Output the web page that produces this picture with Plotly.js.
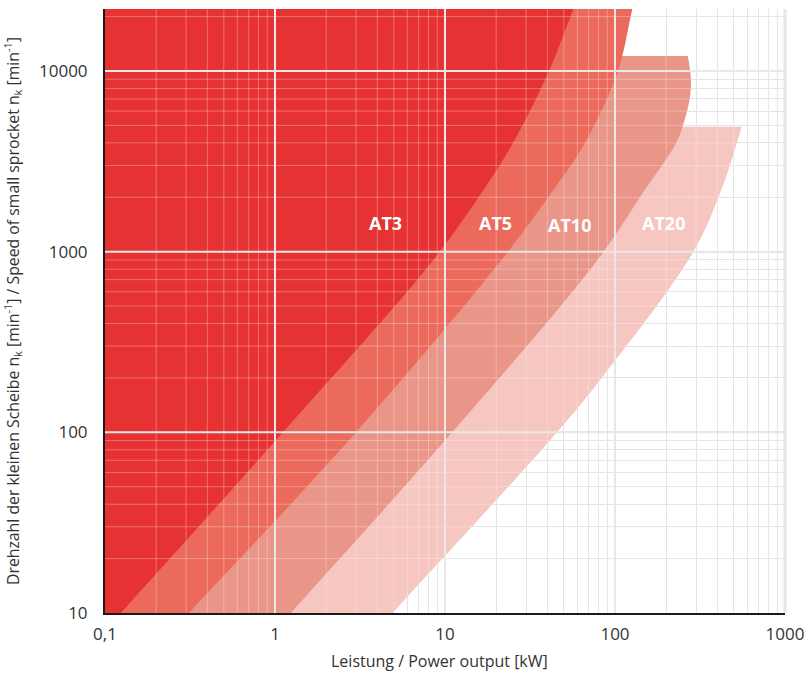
<!DOCTYPE html>
<html>
<head>
<meta charset="utf-8">
<script src="https://cdn.plot.ly/plotly-3.0.1.min.js"></script>
<style>html,body{margin:0;padding:0;background:#fff;}</style>
</head>
<body>
<div id="chart" style="width:804px;height:673px;"></div>
<script>
// Power output [kW] and speed [min^-1] along the right boundary of each belt's range
const at3Power = [0.124, 1.07, 8.47, 16.7, 25.5, 40.9, 56.6];
const at3Speed = [10, 96, 891, 2170, 4100, 10000, 21700];

const at5Power = [0.312, 2.88, 21.3, 43.0, 67.5, 104, 126];
const at5Speed = [10, 96, 891, 2170, 4100, 10000, 21700];

const at10Power = [1.24, 10.6, 78.3, 148.6, 232, 259, 273.5, 280, 277, 268];
const at10Speed = [10, 96, 891, 2170, 4100, 5520, 6820, 8430, 10000, 12100];

const at20Power = [4.92, 43.0, 82.8, 292, 420, 504, 556];
const at20Speed = [10, 94, 198, 1014, 2170, 3610, 4920];

const beltNames = ['AT3', 'AT5', 'AT10', 'AT20'];
const beltColors = ['#e63232', '#ec6a5c', '#e99588', '#f6c6c1'];
const labelPower = [4.44, 19.7, 54.3, 194];
const labelSpeed = [1445, 1445, 1410, 1445];

const xTickVals = [0.1, 1, 10, 100, 1000];
const xTickText = ['0,1', '1', '10', '100', '1000'];
const yTickVals = [10, 100, 1000, 10000];
const yTickText = ['10', '100', '1000', '10000'];

const xTitle = 'Leistung / Power output [kW]';
const yTitle = 'Drehzahl der kleinen Scheibe n<sub>k</sub> [min<sup>-1</sup>] / Speed of small sprocket n<sub>k</sub> [min<sup>-1</sup>]';

// region left of the boundary curve (capped ones end with a horizontal top)
// corner vertices are doubled so the spline keeps them sharp
function region(P, S, capped) {
  const lx = P.map(Math.log10), ly = S.map(Math.log10);
  const n = lx.length;
  const xs = [], ys = [];
  const add = (x, y, dup) => { xs.push(x); ys.push(y); if (dup) { xs.push(x); ys.push(y); } };
  const yb = 0.5;
  const s0 = (lx[1] - lx[0]) / (ly[1] - ly[0]);
  add(lx[0] + s0 * (yb - ly[0]), yb, true);
  for (let i = 0; i < n; i++) add(lx[i], ly[i], capped && i === n - 1);
  if (!capped) {
    const s = (lx[n-1] - lx[n-2]) / (ly[n-1] - ly[n-2]);
    const yt = 4.7;
    add(lx[n-1] + s * (yt - ly[n-1]), yt, true);
  }
  const topY = ys[ys.length - 1];
  add(-3, topY, true);
  add(-3, yb, true);
  return {x: xs.map(v => Math.pow(10, v)), y: ys.map(v => Math.pow(10, v))};
}

const series = [
  [at20Power, at20Speed, true, 3],
  [at10Power, at10Speed, true, 2],
  [at5Power, at5Speed, false, 1],
  [at3Power, at3Speed, false, 0]
];
const traces = series.map(([P, S, capped, k]) => {
  const r = region(P, S, capped);
  return {
    type: 'scatter', mode: 'lines', x: r.x, y: r.y,
    fill: 'toself', fillcolor: beltColors[k],
    line: {width: 0, color: beltColors[k], shape: 'spline', smoothing: 1},
    hoverinfo: 'skip', name: beltNames[k]
  };
});

// minor grid values
const xMinor = [], yMinor = [];
for (let d = -1; d < 3; d++) for (let m = 2; m <= 9; m++) xMinor.push(m * Math.pow(10, d));
for (let d = 1; d < 5; d++) for (let m = 2; m <= 9; m++) { const v = m * Math.pow(10, d); if (v < 22000) yMinor.push(v); }

const shapes = [];
xMinor.forEach(v => shapes.push({type:'line', xref:'x', yref:'paper', x0:v, x1:v, y0:0, y1:1, layer:'above', line:{color:'rgba(255,255,255,0.3)', width:1}}));
yMinor.forEach(v => shapes.push({type:'line', xref:'paper', yref:'y', x0:0, x1:1, y0:v, y1:v, layer:'above', line:{color:'rgba(255,255,255,0.3)', width:1}}));
[1, 10, 100].forEach(v => shapes.push({type:'line', xref:'x', yref:'paper', x0:v, x1:v, y0:0, y1:1, layer:'above', line:{color:'#e8e8e8', width:2}}));
[100, 1000, 10000].forEach(v => shapes.push({type:'line', xref:'paper', yref:'y', x0:0, x1:1, y0:v, y1:v, layer:'above', line:{color:'#e8e8e8', width:2}}));
shapes.push({type:'line', xref:'paper', yref:'paper', x0:1, x1:1, y0:0, y1:1, layer:'above', line:{color:'#e6e6e6', width:3}});

const annotations = beltNames.map((name, k) => ({
  x: Math.log10(labelPower[k]), y: Math.log10(labelSpeed[k]), xref:'x', yref:'y',
  text: '<b>' + name + '</b>', showarrow: false,
  font: {family: 'Open Sans, sans-serif', size: 18, color: '#ffffff'}
}));
annotations.push({
  xref: 'paper', yref: 'paper', x: 0.4916, y: -0.0795,
  xanchor: 'center', yanchor: 'middle', showarrow: false,
  text: xTitle, font: {family: 'Open Sans, sans-serif', size: 16, color: '#333333'}
});

const font = 'Open Sans, sans-serif';
const layout = {
  width: 804, height: 673,
  margin: {l: 105, r: 19, t: 9, b: 60},
  paper_bgcolor: '#ffffff', plot_bgcolor: '#ffffff',
  showlegend: false,
  font: {family: font, color: '#333333'},
  xaxis: {
    type: 'log', range: [-1, 3],
    tickvals: xTickVals, ticktext: xTickText,
    ticks: '', ticklabelstandoff: 5, ticklabeloverflow: 'allow',
    tickfont: {size: 17, color: '#333333'},
    showline: true, linecolor: '#1a1a1a', linewidth: 2,
    showgrid: true, gridcolor: '#dedede', gridwidth: 2,
    minor: {tickvals: xMinor, showgrid: true, gridcolor: '#dedede', gridwidth: 1},
    zeroline: false, automargin: false
  },
  yaxis: {
    type: 'log', range: [1, 4.343],
    tickvals: yTickVals, ticktext: yTickText,
    ticks: '', ticklabelstandoff: 12, ticklabeloverflow: 'allow',
    tickfont: {size: 17, color: '#333333'},
    showline: true, linecolor: '#1a1a1a', linewidth: 2,
    showgrid: true, gridcolor: '#dedede', gridwidth: 2,
    minor: {tickvals: yMinor, showgrid: true, gridcolor: '#dedede', gridwidth: 1},
    zeroline: false, automargin: false,
    title: {text: yTitle, font: {size: 15.8, color: '#333333'}, standoff: 16}
  },
  shapes: shapes,
  annotations: annotations
};

Plotly.newPlot('chart', traces, layout, {displayModeBar: false, staticPlot: true});
</script>
</body>
</html>
